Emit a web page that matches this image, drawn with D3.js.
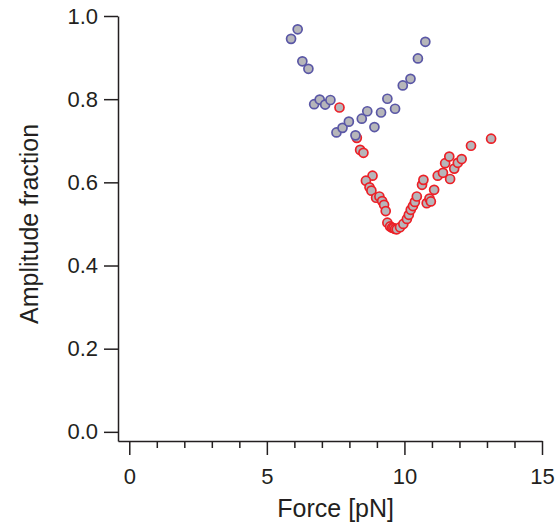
<!DOCTYPE html>
<html>
<head>
<meta charset="utf-8">
<script src="https://cdn.jsdelivr.net/npm/d3@7"></script>
<style>
  body { margin: 0; background: #fff; }
  svg text { font-family: "Liberation Sans", Arial, sans-serif; fill: #231f20; }
</style>
</head>
<body>
<svg id="chart" width="558" height="531"></svg>
<script>
// blue series (force pN, amplitude fraction)
const blueForce = [5.88, 6.12, 6.29, 6.51, 6.72, 6.92, 7.12, 7.31, 7.53, 7.75, 7.98, 8.22, 8.45, 8.65, 8.91, 9.15, 9.38, 9.66, 9.94, 10.22, 10.49, 10.76];
const blueAmp = [0.945, 0.968, 0.891, 0.873, 0.788, 0.799, 0.787, 0.798, 0.720, 0.731, 0.746, 0.713, 0.753, 0.771, 0.733, 0.768, 0.801, 0.777, 0.833, 0.849, 0.898, 0.938];

// red series
const redForce = [7.64, 8.27, 8.39, 8.51, 8.84, 8.60, 8.73, 8.80, 8.97, 9.09, 9.19, 9.26, 9.32, 9.38, 9.48, 9.55, 9.60, 9.66, 9.72, 9.84, 9.96, 10.09, 10.16, 10.23, 10.31, 10.38, 10.45, 10.64, 10.69, 10.81, 10.91, 10.96, 11.08, 11.21, 11.40, 11.48, 11.63, 11.66, 11.81, 11.94, 12.08, 12.42, 13.15];
const redAmp = [0.780, 0.707, 0.678, 0.671, 0.616, 0.604, 0.588, 0.580, 0.563, 0.566, 0.555, 0.546, 0.531, 0.503, 0.494, 0.491, 0.490, 0.488, 0.487, 0.492, 0.500, 0.512, 0.522, 0.534, 0.543, 0.553, 0.566, 0.594, 0.606, 0.550, 0.561, 0.554, 0.582, 0.616, 0.623, 0.646, 0.662, 0.608, 0.633, 0.647, 0.656, 0.688, 0.705];

const xMajor = [0, 5, 10, 15];
const xMinor = [1, 2, 3, 4, 6, 7, 8, 9, 11, 12, 13, 14];
const yTicks = [0, 0.2, 0.4, 0.6, 0.8, 1.0];

const svg = d3.select("#chart");

const x = d3.scaleLinear().domain([-0.41, 15]).range([118, 542]);
const y = d3.scaleLinear().domain([-0.022, 1.0]).range([441, 16]);

const axisColor = "#231f20";

// minor x ticks
svg.append("g")
  .attr("transform", `translate(0,${y(-0.022)})`)
  .call(d3.axisBottom(x).tickValues(xMinor).tickSize(7).tickSizeOuter(0).tickFormat(""))
  .call(g => g.select(".domain").remove());

// major x ticks + labels
svg.append("g")
  .attr("class", "x-axis")
  .attr("transform", `translate(0,${y(-0.022)})`)
  .call(d3.axisBottom(x).tickValues(xMajor).tickSize(14).tickSizeOuter(0).tickPadding(13).tickFormat(d3.format("d")))
  .call(g => g.selectAll("text").attr("font-size", 22));

svg.append("g")
  .attr("class", "y-axis")
  .attr("transform", `translate(${x(-0.41)},0)`)
  .call(d3.axisLeft(y).tickValues(yTicks).tickSize(14).tickSizeOuter(0).tickPadding(6).tickFormat(d3.format(".1f")))
  .call(g => g.selectAll("text").attr("font-size", 22));

svg.selectAll(".domain, .tick line")
  .attr("stroke", axisColor)
  .attr("stroke-width", 1.5);
svg.selectAll(".tick text").attr("fill", axisColor).attr("font-family", "Liberation Sans, Arial, sans-serif");

svg.append("text")
  .attr("x", x(7.5))
  .attr("y", 517)
  .attr("text-anchor", "middle")
  .attr("font-size", 25)
  .text("Force [pN]");

svg.append("text")
  .attr("transform", `translate(38,${y(0.5)})rotate(-90)`)
  .attr("text-anchor", "middle")
  .attr("font-size", 25)
  .text("Amplitude fraction");

const fillGray = "#b6b6ba";

svg.append("g").selectAll("circle")
  .data(redForce.map((f, i) => [f, redAmp[i]]))
  .join("circle")
  .attr("cx", d => x(d[0]))
  .attr("cy", d => y(d[1]))
  .attr("r", 4.5)
  .attr("fill", fillGray)
  .attr("stroke", "#ec2027")
  .attr("stroke-width", 1.7);

svg.append("g").selectAll("circle")
  .data(blueForce.map((f, i) => [f, blueAmp[i]]))
  .join("circle")
  .attr("cx", d => x(d[0]))
  .attr("cy", d => y(d[1]))
  .attr("r", 4.5)
  .attr("fill", fillGray)
  .attr("stroke", "#5a57a6")
  .attr("stroke-width", 1.7);
</script>
</body>
</html>
